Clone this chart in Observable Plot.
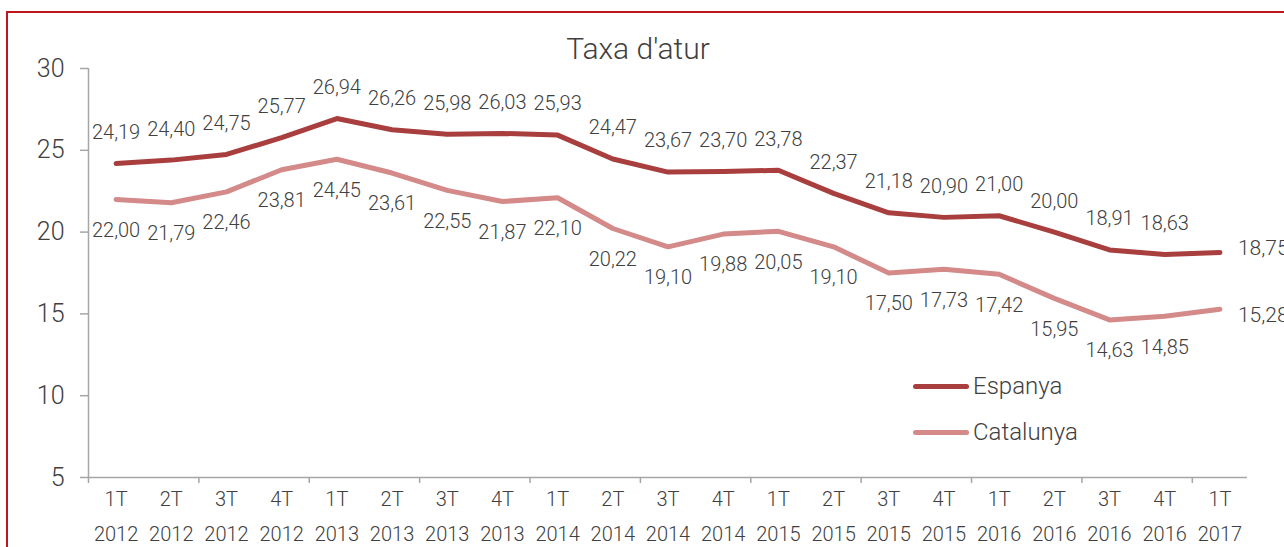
<!DOCTYPE html>
<html>
<head>
<meta charset="utf-8">
<script src="https://cdn.jsdelivr.net/npm/d3@7"></script>
<script src="https://cdn.jsdelivr.net/npm/@observablehq/plot@0.6"></script>
<style>
  html, body { margin: 0; padding: 0; background: #fff; }
  #wrap { position: relative; width: 1284px; height: 547px; overflow: hidden; font-family: "Roboto", sans-serif; font-weight: 300; color: #404040; }
  #chart { position: absolute; left: 0; top: 0; }
  #border { position: absolute; left: 6px; top: 11px; width: 1300px; height: 600px; border-left: 2px solid #C0161C; border-top: 2px solid #C0161C; box-sizing: border-box; }
  #title { position: absolute; left: 438px; width: 400px; top: 31px; text-align: center; font-size: 30px; line-height: 36px; }
  .leg { position: absolute; left: 913px; display: flex; align-items: center; font-size: 24px; height: 30px; }
  .leg .sw { width: 56px; height: 5px; border-radius: 3px; margin-right: 4px; }
</style>
</head>
<body>
<div id="wrap">
  <div id="chart"></div>
  <div id="border"></div>
  <div id="title">Taxa d'atur</div>
  <div class="leg" id="leg1" style="top:371px"><div class="sw"></div><span>Espanya</span></div>
  <div class="leg" id="leg2" style="top:417px"><div class="sw"></div><span>Catalunya</span></div>
</div>
<script>
const quarters = ["1T","2T","3T","4T","1T","2T","3T","4T","1T","2T","3T","4T","1T","2T","3T","4T","1T","2T","3T","4T","1T"];
const years = ["2012","2012","2012","2012","2013","2013","2013","2013","2014","2014","2014","2014","2015","2015","2015","2015","2016","2016","2016","2016","2017"];
const espanya = [24.19,24.40,24.75,25.77,26.94,26.26,25.98,26.03,25.93,24.47,23.67,23.70,23.78,22.37,21.18,20.90,21.00,20.00,18.91,18.63,18.75];
const catalunya = [22.00,21.79,22.46,23.81,24.45,23.61,22.55,21.87,22.10,20.22,19.10,19.88,20.05,19.10,17.50,17.73,17.42,15.95,14.63,14.85,15.28];
const seriesNames = ["Espanya", "Catalunya"];
const yTicks = [5,10,15,20,25,30];

const colors = { Espanya: "#A83E3D", Catalunya: "#D38A89" };
document.querySelector("#leg1 .sw").style.background = colors.Espanya;
document.querySelector("#leg2 .sw").style.background = colors.Catalunya;

const rows = [];
quarters.forEach((q, i) => {
  rows.push({i, series: "Espanya", value: espanya[i]});
  rows.push({i, series: "Catalunya", value: catalunya[i]});
});
const last = quarters.length - 1;
const fmt = v => v.toFixed(2).replace(".", ",");
const idx = d3.range(quarters.length);
const boundaries = idx.filter(i => i % 2 === 0).map(i => i - 0.5);

const font = "Roboto, sans-serif";
const txt = "#404040";
const axisCol = "#A6A6A6";

const plot = Plot.plot({
  width: 1284,
  height: 547,
  marginLeft: 88,
  marginRight: 37,
  marginTop: 68,
  marginBottom: 70,
  style: { fontFamily: font, fontWeight: 300, color: txt, background: "transparent" },
  x: { type: "linear", domain: [-0.5, last + 0.5] },
  y: { domain: [5, 30] },
  marks: [
    Plot.ruleY([5], { stroke: axisCol, strokeWidth: 1.5 }),
    Plot.ruleX([-0.5], { stroke: axisCol, strokeWidth: 1.5 }),
    Plot.axisY({ ticks: yTicks, tickSize: 8, tickPadding: 16, fontSize: 25, stroke: axisCol, strokeWidth: 1.5, fill: txt, label: null }),
    Plot.axisX({ ticks: boundaries, tickSize: 6, tickFormat: () => "", stroke: axisCol, strokeWidth: 1.5, label: null }),
    Plot.axisX({ ticks: idx, tickSize: 0, tickPadding: 4, fontSize: 20, lineHeight: 1.75, fill: txt, label: null,
      tickFormat: i => `${quarters[i]}\n${years[i]}` }),
    Plot.line(rows, { x: "i", y: "value", z: "series", stroke: d => colors[d.series], strokeWidth: 5, strokeLinejoin: "round", strokeLinecap: "round" }),
    Plot.text(rows.filter(d => d.series === "Espanya" && d.i < last), { x: "i", y: "value", text: d => fmt(d.value), dy: -31, fontSize: 20, fill: txt }),
    Plot.text(rows.filter(d => d.series === "Catalunya" && d.i < last), { x: "i", y: "value", text: d => fmt(d.value), dy: 31, fontSize: 20, fill: txt }),
    Plot.text(rows.filter(d => d.series === "Espanya" && d.i === last), { x: "i", y: "value", text: d => fmt(d.value), dx: 18, dy: -4, textAnchor: "start", fontSize: 21, fill: txt }),
    Plot.text(rows.filter(d => d.series === "Catalunya" && d.i === last), { x: "i", y: "value", text: d => fmt(d.value), dx: 18, dy: 6, textAnchor: "start", fontSize: 21, fill: txt })
  ]
});
document.getElementById("chart").appendChild(plot);
</script>
</body>
</html>
